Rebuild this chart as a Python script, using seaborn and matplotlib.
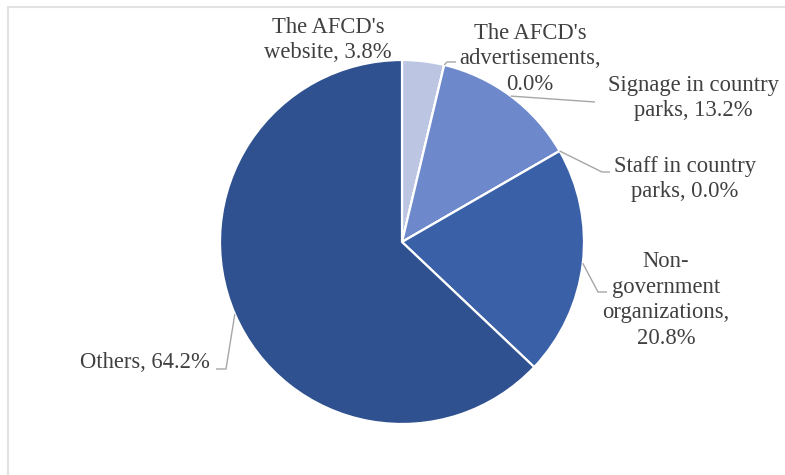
import numpy as np
import matplotlib
matplotlib.use("Agg")
import matplotlib.pyplot as plt
import seaborn as sns
from matplotlib.patches import Rectangle

# Sources of information (share of respondents, %)
categories = [
    "The AFCD's\nwebsite",
    "The AFCD's\nadvertisements,",
    "Signage in country\nparks",
    "Staff in country\nparks",
    "Non-\ngovernment\norganizations,",
    "Others",
]
shares = [3.8, 0.0, 13.2, 0.0, 20.8, 64.2]
label_joiner = [", ", "\n", ", ", ", ", "\n", ", "]
colors = ["#bcc6e3", "#bcc6e3", "#6d89cc", "#3a60a8", "#3a60a8", "#2f5190"]

sns.set_theme(style="white")
plt.rcParams["font.family"] = ["Liberation Serif", "DejaVu Serif"]

W, H = 785, 475
CX, CY, R = 402, 242, 182  # pie centre and radius in pixels

fig = plt.figure(figsize=(W / 100, H / 100), dpi=100)
ax = fig.add_axes([0, 0, 1, 1])


def px(x, y):
    """Pixel position (origin top-left) to data coordinates."""
    return (x - CX) / R, (CY - y) / R


wedges, _ = ax.pie(
    shares,
    colors=colors,
    startangle=90,
    counterclock=False,
    radius=1.0,
    center=(0, 0),
    wedgeprops=dict(edgecolor="white", linewidth=1.6),
)
ax.set_aspect("auto")
ax.set_xlim((0 - CX) / R, (W - CX) / R)
ax.set_ylim((CY - H) / R, CY / R)
ax.axis("off")

# Label anchors (text block centres) and leader-line bends, in pixels
label_pos = [(328, 40), (530, 59), (693, 98), (685, 179), (666, 300), (145, 363)]
leader_path = [
    None,
    [(447, 62), (456, 62)],
    [(595, 102)],
    [(602, 172), (610, 172)],
    [(598, 292), (607, 292)],
    [(226, 369), (216, 369)],
]

text_color = "#404040"
line_color = "#a6a6a6"
for w, cat, val, sep, pos, path in zip(
    wedges, categories, shares, label_joiner, label_pos, leader_path
):
    txt = f"{cat}{sep}{val:.1f}%"
    tx, ty = px(*pos)
    ax.text(tx, ty, txt, ha="center", va="center", fontsize=16.3,
            color=text_color, linespacing=1.3)
    if path is not None:
        mid = np.deg2rad((w.theta1 + w.theta2) / 2)
        pts = [(np.cos(mid), np.sin(mid))] + [px(*p) for p in path]
        xs, ys = zip(*pts)
        ax.plot(xs, ys, color=line_color, lw=1.0, solid_capstyle="butt")

# Chart-area frame
fig.patches.append(Rectangle((8 / W, -0.1), 1.2, 1 - 7 / H + 0.1,
                             transform=fig.transFigure, fill=False,
                             edgecolor="#e2e2e2", linewidth=1.5))

fig.savefig("out.png", dpi=100)
